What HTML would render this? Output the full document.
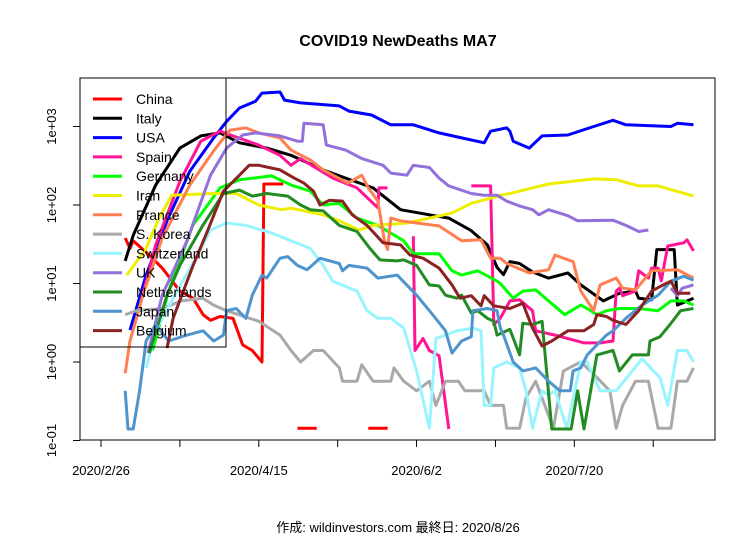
<!DOCTYPE html>
<html><head><meta charset="utf-8"><style>
body{margin:0;background:#fff}
svg text{font-family:"Liberation Sans","Noto Sans CJK JP",sans-serif}
</style></head><body>
<svg id="chart" width="756" height="540" viewBox="0 0 756 540" xmlns="http://www.w3.org/2000/svg">
<rect width="756" height="540" fill="#fff"/>
<text x="398" y="46" text-anchor="middle" font-size="16" font-weight="bold">COVID19 NewDeaths MA7</text>
<defs><clipPath id="pc"><rect x="80" y="78" width="635" height="362"/></clipPath></defs>
<g id="series" clip-path="url(#pc)"></g>
<rect x="80" y="78" width="635" height="362" fill="none" stroke="#000" stroke-width="1"/>
<g id="axes"></g>
<g id="legend"></g>
<text x="398" y="532" text-anchor="middle" font-size="13">作成: wildinvestors.com 最終日: 2020/8/26</text>
</svg>
<script>
// x tick labels (day offset from 2020/2/26)
const xTickDays=[0,24.5,49,73.5,98,122.5,147,171.5];
const xTickLabels=["2020/2/26","","2020/4/15","","2020/6/2","","2020/7/20",""];
const yTickVals=[0.1,1,10,100,1000];
const yTickLabels=["1e-01","1e+00","1e+01","1e+02","1e+03"];
const seriesNames=["China","Italy","USA","Spain","Germany","Iran","France","S. Korea","Switzerland","UK","Netherlands","Japan","Belgium"];
const seriesColors=["#FF0000","#000000","#0000FF","#FF1493","#00FF00","#EEEE00","#FF7F50","#A9A9A9","#98F5FF","#9370DB","#228B22","#4F94CD","#8B2323"];
// [day, MA7 deaths] ; null breaks the line
const china=[[7.5,38],[9,28],[10,35],[15,23],[19,15.7],[24.5,8],[28.6,6.5],[31.7,4],[34,3.4],[37,3.8],[41,3.6],[44,1.65],[47,1.4],[50,1.0],[50.6,185],[56.6,185],null,[61,0.143],[67,0.143],null,[83,0.143],[89,0.143]];
const italy=[[7.5,19.4],[10,41],[17,180],[24.5,530],[31,760],[37,830],[43,620],[51.5,530],[59,430],[69,280],[76,220],[84.5,165],[93,87],[102,75],[108,68],[115,47],[120,31],[123,16],[125,13],[127,19],[130,18],[134,14],[139,11.7],[145,13.6],[149,9.6],[156,6],[161,7.5],[166,8],[167,6.5],[171,6.2],[172.6,27],[178,27],[179,5.3],[184,6.5]];
const usa=[[9,2.55],[14,12.8],[20.5,63],[27.6,270],[35,715],[39,1160],[43,1720],[48,2100],[50,2660],[55.6,2750],[57,2170],[62,2000],[74,1830],[77,1570],[84,1400],[90,1050],[97,1050],[105,830],[112,715],[119,620],[121,870],[126,960],[127,870],[128,650],[133,530],[137,760],[145,780],[153,1000],[159,1200],[163,1050],[177,1000],[179,1100],[184,1050]];
const spain=[[12.7,6.5],[17,31],[24.5,200],[31,650],[37,870],[41,760],[49,580],[55.6,430],[59,320],[62,390],[72,220],[79.5,165],[86,92],[86.3,165],[89,165],null,[97,40],[97.5,1.4],[100,2.0],[102,1.4],[105,1.2],[108,0.14],null,[115,175],[121,175],[122,3],[124,3.6],[127,6],[130,6.2],[134,4.5],[135,2.5],[141,2.2],[150,1.75],[155,1.75],[159,1.85],[160,8],[161,8.7],[162,7],[166,8],[167,14.5],[170,11.7],[171,15.7],[173,15.7],[174,10.8],[176,30],[181,33],[182,36],[184,26]];
const germany=[[16,1.4],[21,8],[28.5,55],[37,165],[43,210],[53,235],[59,180],[65,150],[69,100],[74,105],[79.5,68],[86,55],[94,35],[97,24],[105,24],[109,14.5],[112,12.8],[117,14.5],[123,10.7],[124,10],[128,6.5],[131,8],[135,8.3],[144,4],[149,5.3],[151,4.8],[154,4],[157,4.5],[161,4.8],[167,4.8],[173,4.5],[177,6],[181,6],[184,5.3]];
const iran=[[8,12.8],[14,28],[18,68],[22,133],[35,140],[42,140],[49,100],[56,87],[59,91],[69,75],[74,63],[80,48],[84.5,55],[95,59],[102,68],[109,79],[115,105],[121,122],[124,133],[127,140],[134,165],[139,185],[153,215],[160,210],[167,175],[173,175],[184,130]];
const france=[[7.5,0.72],[9,1.85],[13,7.1],[19,38],[27.6,180],[35,490],[40,900],[45,960],[49,830],[55.6,715],[59,500],[65,375],[69,280],[76.7,190],[81,240],[83,165],[86,112],[88,35],[89,27],[90,68],[93,63],[105,54],[112,35],[118,36],[121,21],[124,21],[126,18],[133,13.6],[139,15],[141,23],[146.6,19],[149,8],[153,4.5],[155,9.6],[160,11.7],[162,8.7],[166,8.3],[171,14.5],[179,15],[184,11.7]];
const korea=[[7.5,4],[11,4.5],[19,4.8],[25,6],[31.6,6.5],[35,5.3],[39,4.5],[49,3.3],[55.6,2.2],[59,1.4],[62,1.0],[66,1.4],[69,1.4],[74,0.84],[75,0.57],[79.5,0.57],[81,0.92],[84.5,0.57],[90,0.57],[91,0.84],[94,0.57],[98,0.43],[102,0.57],[104,0.28],[107,0.57],[111,0.57],[113,0.43],[119,0.43],[121,0.28],[125,0.28],[126,0.143],[130,0.143],[132,0.35],[135,0.57],[140.5,0.143],[143.6,0.77],[149,1.0],[152,0.77],[158,0.43],[160,0.143],[162,0.28],[166,0.57],[170,0.57],[173,0.143],[177,0.143],[179,0.57],[182,0.57],[184,0.84]];
const swiss=[[14,0.84],[17,2.5],[23.6,8],[30,23],[34,48],[39,59],[45,55],[53,44],[59,35],[65,28],[69,17],[72,10.7],[79.5,8],[82.6,4.5],[86,3.6],[90,3.6],[94,2.7],[98,0.77],[102,0.143],[104,2.0],[107,2.2],[110.5,2.5],[115.5,2.7],[118,2.5],[119,0.28],[121,0.28],[122,0.84],[126,1.0],[130,0.84],[132,0.43],[134,0.143],[137,0.43],[139,0.38],[141,0.43],[144.7,0.143],[149,1.0],[151,1.0],[155,0.43],[160,0.43],[168,1.1],[173.6,0.63],[176,0.28],[179,1.4],[182,1.4],[184,1.0]];
const uk=[[14.6,1.3],[19,7.1],[26.7,35],[34,240],[39,530],[44,780],[48,830],[55.6,760],[61,650],[62.5,650],[63,1100],[69,1050],[70,580],[76,500],[81,390],[87.6,320],[90,255],[95,240],[97,320],[102,300],[105,220],[108,175],[115,140],[119,133],[123,133],[126,112],[130,97],[134,87],[136,75],[139,87],[145,73],[148,63],[159,64],[163,55],[167,46],[170,48],null,[177,8.7],[179,7],[180.5,8.7],[184,9.6]];
const nether=[[15,1.3],[20.5,7.1],[24.5,17],[31.6,55],[38,140],[43,155],[47,130],[51.5,140],[58,130],[62,100],[65,87],[69,84],[74,55],[79.5,46],[83.5,28],[86.6,20],[92,19.4],[94,20],[98,17],[102,9.6],[105,9.3],[107,7.1],[110.5,6.5],[112,7.1],[115,4.2],[117,4.5],[120,3.6],[122,3.3],[123,2.2],[126,2.5],[127,2.6],[130,1.23],[131,3.1],[134,3.0],[137,3.3],[140,0.14],[146,0.14],[148,0.43],[150,0.14],[154,1.23],[159,1.4],[161,0.77],[165,1.23],[170,1.23],[170.5,1.85],[173.6,2.1],[177,3.1],[180,4.5],[184,4.8]];
const japan=[[7.5,0.43],[8.4,0.14],[10,0.14],[12,0.43],[14,1.85],[17,3],[21,1.85],[26.7,2.2],[31.7,2.5],[35,1.85],[38,2.2],[39,4.5],[42,4.8],[45,3.6],[47,7.1],[50,12.8],[51.5,11.7],[55.6,21],[58,22],[61,17],[64,15],[68,21],[74,18],[75,14.5],[77,17],[82.6,15.7],[86,11.7],[92,12.8],[98,7.1],[103,4],[107,2.5],[109,1.3],[112,1.85],[115,2.1],[115.5,4.5],[120,4.8],[123,4.5],[124,2.7],[125,2.2],[128,1.0],[131,0.77],[135,0.84],[139,0.57],[142.5,0.43],[145.7,0.43],[146.6,0.77],[149,0.84],[151,1.23],[154,1.65],[157,2.2],[159,2.5],[163,3.6],[168,5.3],[173,7.1],[177,10.7],[181,12.4],[184,11]];
const belgium=[[20.5,1.5],[22.4,3.6],[28.6,17],[33,46],[38,150],[43,240],[46,320],[49,320],[55.6,280],[60,220],[63,190],[66,150],[68,100],[71,115],[75,112],[78,75],[82.6,55],[87.6,33],[93,31],[96,23],[100,21],[105,15.7],[109,9.6],[111.5,6.5],[115,7],[118,5.2],[119,7],[122,5.2],[127,4.8],[131,5.6],[134,2.7],[137,1.6],[140,1.85],[145,2.5],[150,2.5],[153,3.0],[154,4],[157,3.8],[159,3.4],[163,3],[167,4.5],[171,8],[174.6,9.6],[177,10.7],[179,7.5],[183,7.5]];
const allSeries=[china,italy,usa,spain,germany,iran,france,korea,swiss,uk,nether,japan,belgium];
const seriesKeys=["china","italy","usa","spain","germany","iran","france","s-korea","switzerland","uk","netherlands","japan","belgium"];

const NS="http://www.w3.org/2000/svg";
const X0=101,PXD=3.22,Y1=362,PDEC=78.5;
function xs(d){return X0+d*PXD;}
function ys(v){return Y1-PDEC*Math.log10(v);}
function mk(t,a,p){const e=document.createElementNS(NS,t);for(const k in a)e.setAttribute(k,a[k]);p.appendChild(e);return e;}

const sg=document.getElementById('series');
allSeries.forEach((s,i)=>{
  let d="",pen=false;
  s.forEach(p=>{
    if(!p){pen=false;return;}
    d+=(pen?"L":"M")+xs(p[0]).toFixed(1)+" "+ys(p[1]).toFixed(1)+" ";pen=true;
  });
  const el=mk('path',{d:d,fill:"none",stroke:seriesColors[i],"stroke-width":3,"stroke-linejoin":"round"},sg);
  
  
});

const ax=document.getElementById('axes');
xTickDays.forEach((d,i)=>{
  const t=mk('line',{x1:xs(d),x2:xs(d),y1:440,y2:447,stroke:"#000"},ax);
  
  
  if(xTickLabels[i]){
    const l=mk('text',{x:xs(d),y:475,"text-anchor":"middle","font-size":13},ax);
    l.textContent=xTickLabels[i];
    
    
  }
});
mk('line',{x1:xs(0),x2:xs(171.5),y1:440,y2:440,stroke:"#000"},ax);
yTickVals.forEach((v,i)=>{
  const y=ys(v);
  const t=mk('line',{x1:73,x2:80,y1:y,y2:y,stroke:"#000"},ax);
  
  
  const l=mk('text',{x:0,y:0,"text-anchor":"middle","font-size":13,transform:"translate(56,"+y+") rotate(-90)"},ax);
  l.textContent=yTickLabels[i];
  
  
});

const lg=document.getElementById('legend');
const box=mk('rect',{x:80,y:78,width:146,height:269,fill:"none",stroke:"#000"},lg);


seriesNames.forEach((n,i)=>{
  const y=99+i*19.3;
  const ln=mk('line',{x1:93,x2:122,y1:y,y2:y,stroke:seriesColors[i],"stroke-width":3},lg);
  
  
  const t=mk('text',{x:136,y:y+5,"font-size":14},lg);
  t.textContent=n;
  
  
});
</script>
</body></html>
